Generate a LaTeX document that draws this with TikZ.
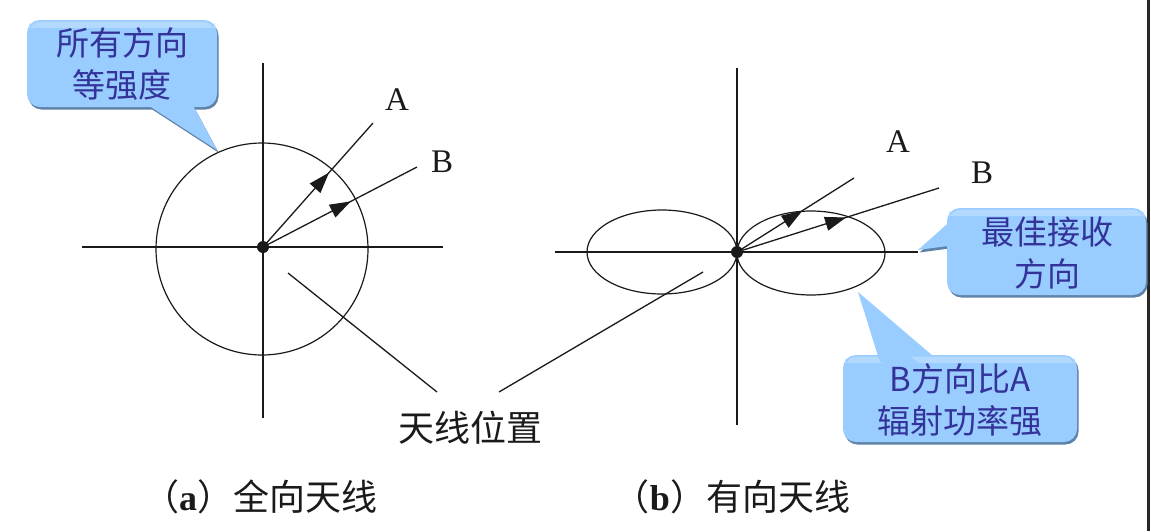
\documentclass[tikz,border=0pt]{standalone}
\usepackage{fontspec}
\setmainfont{Liberation Serif}
\newfontfamily\cjk{Noto Sans CJK SC}
\usetikzlibrary{decorations.markings,arrows.meta}
\definecolor{callfill}{HTML}{99CCFF}
\definecolor{calltop}{HTML}{B3D9FF}
\definecolor{callshadow}{HTML}{5F82A8}
\definecolor{calltext}{HTML}{33339A}
\definecolor{ink}{HTML}{1A1A1A}
\tikzset{
  midarrow/.style={postaction={decorate},decoration={markings,mark=at position #1 with {\arrow{Triangle[length=21pt,width=14pt]}}}},
  axis/.style={draw=ink,line width=1.4pt},
  curve/.style={draw=ink,line width=1.2pt},
  ray/.style={draw=ink,line width=1.3pt},
  letter/.style={font=\fontsize{33}{36}\selectfont,text=ink,inner sep=0pt},
  cjktext/.style={font=\cjk\fontsize{36}{40}\selectfont,text=ink,inner sep=0pt},
  calltxt/.style={font=\cjk\fontsize{33}{42}\selectfont,text=calltext,align=center,inner sep=0pt},
  callbox/.style={fill=callfill,rounded corners=13pt},
  callshade/.style={fill=callshadow,rounded corners=13pt},
}
\begin{document}
\begin{tikzpicture}[x=1pt,y=-1pt]
\useasboundingbox (0,0) rectangle (1151,531);
\fill[white] (0,0) rectangle (1151,531);
\fill[black!85] (1146.5,0) rectangle (1150,531);

% ---------- (a) omnidirectional ----------
\coordinate (oa) at (263,247);
\coordinate (va1) at (263,63);
\coordinate (va2) at (263,418);
\coordinate (ha1) at (82,247);
\coordinate (ha2) at (443,247);
\draw[axis] (va1) -- (va2);
\draw[axis] (ha1) -- (ha2);
\draw[curve] (262,249) circle (106);
\coordinate (aA) at (373,123);
\coordinate (aB) at (417,167);
\draw[ray,midarrow=0.60] (oa) -- (aA);
\draw[ray,midarrow=0.57] (oa) -- (aB);
\fill[ink] (oa) circle (6);
\node[letter] (la) at (397,100) {A};
\node[letter] (lb) at (442,162) {B};

% ---------- (b) directional ----------
\coordinate (ob) at (737,252);
\coordinate (vb1) at (737,68);
\coordinate (vb2) at (737,425);
\coordinate (hb1) at (555,252);
\coordinate (hb2) at (918,252);
\draw[axis] (vb1) -- (vb2);
\draw[axis] (hb1) -- (hb2);
\draw[curve] (662,252) ellipse [x radius=75,y radius=42];
\draw[curve] (811,253) ellipse [x radius=74,y radius=42];
\coordinate (bA) at (854,178);
\coordinate (bB) at (939,188);
\draw[ray,midarrow=0.56] (ob) -- (bA);
\draw[ray,midarrow=0.54] (ob) -- (bB);
\fill[ink] (ob) circle (6);
\node[letter] (ra) at (898,142) {A};
\node[letter] (rb) at (982,173) {B};

% ---------- antenna position ----------
\node[cjktext] (pos) at (470,428) {天线位置};
\coordinate (p1) at (288,273);
\coordinate (e1) at (437,392);
\coordinate (p2) at (703,272);
\coordinate (e2) at (499,392);
\draw[ray] (p1) -- (e1);
\draw[ray] (p2) -- (e2);

% ---------- captions ----------
\node[cjktext] (capa) at (260,497) {\cjk （\textbf{\rmfamily a}）全向天线};
\node[cjktext] (capb) at (732,497) {\cjk （\textbf{\rmfamily b}）有向天线};

% ---------- callout 1 ----------
\begin{scope}[shift={(1.5,2.5)}]
  \fill[callshade] (27,20) rectangle (217,107);
  \fill[callshadow] (140,100) -- (217,150) -- (190,100) -- cycle;
\end{scope}
\fill[callbox] (27,20) rectangle (217,107);
\fill[callfill] (140,100) -- (217,150) -- (190,100) -- cycle;
\fill[calltop,rounded corners=12pt] (29,21.5) rectangle (215,34);
\fill[callfill] (29,28) rectangle (215,36);
\node[calltxt] (c1) at (122,64) {所有方向\\等强度};

% ---------- callout 2 ----------
\begin{scope}[shift={(1.5,2.5)}]
  \fill[callshade] (947,208) rectangle (1146,295);
  \fill[callshadow] (955,217) -- (918,250) -- (955,245) -- cycle;
\end{scope}
\fill[callbox] (947,208) rectangle (1146,295);
\fill[callfill] (955,217) -- (918,250) -- (955,245) -- cycle;
\fill[calltop,rounded corners=12pt] (949,209.5) rectangle (1144,222);
\fill[callfill] (949,216) rectangle (1144,224);
\node[calltxt] (c2) at (1047,253) {最佳接收\\方向};

% ---------- callout 3 ----------
\begin{scope}[shift={(1.5,2.5)}]
  \fill[callshade] (843,355) rectangle (1077,442);
  \fill[callshadow] (880,362) -- (858,292) -- (940,362) -- cycle;
\end{scope}
\fill[callbox] (843,355) rectangle (1077,442);
\fill[callfill] (880,362) -- (858,292) -- (940,362) -- cycle;
\fill[calltop,rounded corners=12pt] (845,356.5) rectangle (1075,369);
\fill[callfill] (845,363) rectangle (1075,371);
\fill[callfill] (880,362) -- (868,323) -- (930,372) -- cycle;
\node[calltxt] (c3) at (960,400) {B方向比A\\辐射功率强};
\end{tikzpicture}
\end{document}
